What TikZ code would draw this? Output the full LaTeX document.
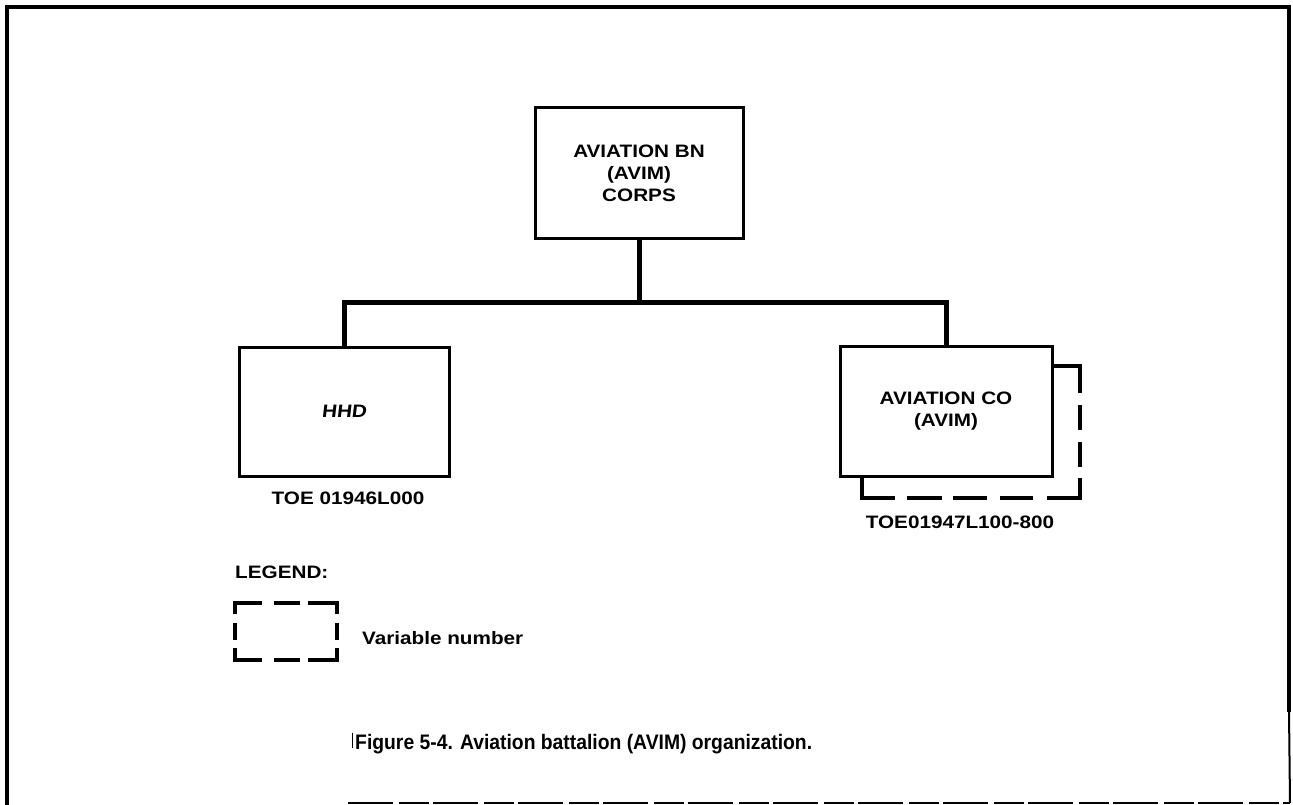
\documentclass[tikz,border=0pt]{standalone}
\usepackage{fontspec}
\newfontfamily\chartfont[FakeStretch=1.15]{Liberation Sans}
\newfontfamily\chartslfont[FakeStretch=1.15,FakeSlant=0.12]{Liberation Sans}
\newfontfamily\capfont[FakeStretch=0.92]{Liberation Sans}
\begin{document}
\begin{tikzpicture}[x=1pt,y=-1pt,
  orgbox/.style={draw=black,line width=3pt,rectangle,inner sep=0pt,fill=white,
    font=\chartfont\bfseries\fontsize{18}{22}\selectfont,align=center},
  conn/.style={line width=5pt},
  shadowline/.style={line width=3.5pt},
  lbl/.style={font=\chartfont\bfseries\fontsize{18}{22}\selectfont,inner sep=0pt},
  framel/.style={line width=4pt}]
\useasboundingbox (0,0) rectangle (1293,805);
% frame
\draw[framel] (7,805) -- (7,7) -- (1289,7) -- (1289,712);
\draw[line width=2pt] (1289,712) -- (1290,803);
\draw[line width=1.5pt,dash pattern=on 45pt off 6pt on 30pt off 4pt] (348,803) -- (1290,803);
\draw[line width=1pt] (352,733) -- (352,748);
% shadow of aviation co
\draw[shadowline] (1052,366) -- (1080,366) -- (1080,393);
\draw[shadowline] (1080,405) -- (1080,430);
\draw[shadowline] (1080,442) -- (1080,467);
\draw[shadowline] (1080,478) -- (1080,498) -- (1047,498);
\draw[shadowline] (1033,498) -- (1000,498);
\draw[shadowline] (987,498) -- (953,498);
\draw[shadowline] (942,498) -- (907,498);
\draw[shadowline] (895,498) -- (862,498) -- (862,476);
% boxes
\node[orgbox,minimum width=208pt,minimum height=131pt] (bn) at (639,173.5) {AVIATION BN\\(AVIM)\\CORPS};
\node[orgbox,minimum width=210pt,minimum height=129pt,font=\chartslfont\bfseries\fontsize{18}{22}\selectfont] (hhd) at (344,411.5) {HHD};
\node[orgbox,minimum width=212pt,minimum height=130pt] (co) at (946,411) {AVIATION CO\\(AVIM)};
% connectors
\coordinate (bus) at (0,302);
\draw[conn] (bn.south) -- (bn.south |- bus);
\draw[conn] (hhd.north) |- (bus -| co.north) -- (co.north);
% labels
\node[lbl] (toe1) at (348,498) {TOE 01946L000};
\node[lbl] (toe2) at (960,522) {TOE01947L100-800};
\node[lbl,anchor=west] (legend) at (235,572) {LEGEND:};
% legend box
\draw[shadowline] (235,614) -- (235,603) -- (262,603);
\draw[shadowline] (274,603) -- (300,603);
\draw[shadowline] (308,603) -- (337,603) -- (337,614);
\draw[shadowline] (235,623) -- (235,640);
\draw[shadowline] (337,623) -- (337,640);
\draw[shadowline] (235,648) -- (235,660) -- (262,660);
\draw[shadowline] (274,660) -- (300,660);
\draw[shadowline] (308,660) -- (337,660) -- (337,648);
\node[lbl,anchor=west] (var) at (362,638) {Variable number};
% caption
\node[anchor=west,inner sep=0pt,font=\capfont\bfseries\fontsize{21}{24}\selectfont] (cap) at (355,744) {Figure 5-4. Aviation battalion (AVIM) organization.};
\end{tikzpicture}
\end{document}
